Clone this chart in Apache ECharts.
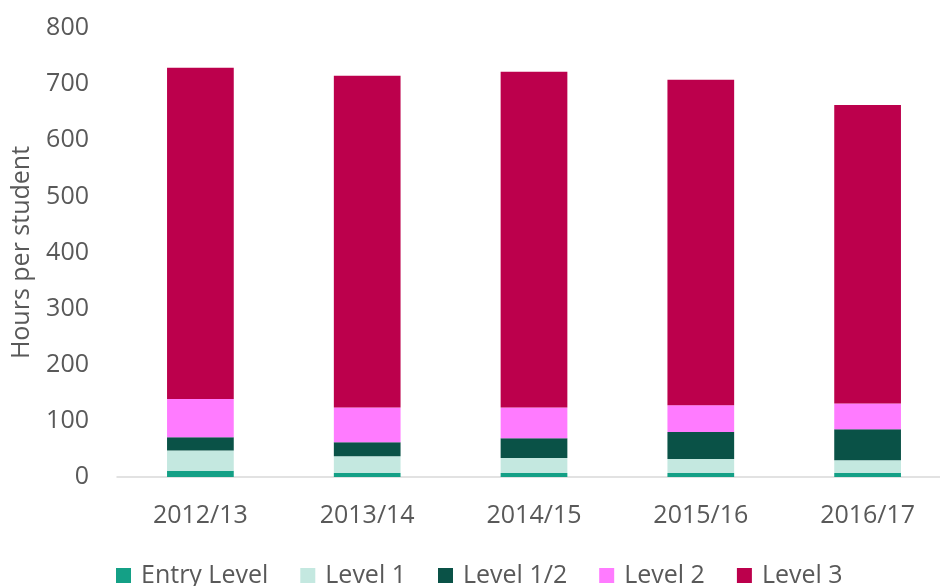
<!DOCTYPE html>
<html>
<head>
<meta charset="utf-8">
<script src="https://cdn.jsdelivr.net/npm/echarts@6/dist/echarts.min.js"></script>
<style>
  html, body { margin: 0; padding: 0; background: #fff; overflow: hidden; }
  #chart { width: 940px; height: 586px; }
</style>
</head>
<body>
<div id="chart"></div>
<script>
const years = ['2012/13', '2013/14', '2014/15', '2015/16', '2016/17']
const entryLevel = [11, 7, 7, 7, 7]
const level1 = [36, 30, 27, 25, 23]
const level12 = [24, 25, 35, 48, 55]
const level2 = [68, 62, 55, 48, 46]
const level3 = [590, 591, 598, 580, 532]

const textColor = '#595959'
const font = 'Open Sans'

function bar(name, data, color) {
  return {
    name: name,
    type: 'bar',
    stack: 'total',
    barWidth: '40%',
    data: data,
    itemStyle: { color: color }
  }
}

let myChart = echarts.init(document.getElementById('chart'))
myChart.setOption({
  animation: false,
  textStyle: { fontFamily: font },
  grid: {
    left: 117,
    top: 28,
    right: -11,
    height: 449,
    outerBoundsMode: 'none',
    containLabel: false
  },
  legend: {
    left: 116,
    top: 563,
    padding: 0,
    itemWidth: 15,
    itemHeight: 15,
    itemGap: 32,
    icon: 'rect',
    textStyle: {
      color: textColor,
      fontFamily: font,
      fontSize: 25,
      lineHeight: 25,
      padding: [0, 0, 0, 5]
    },
    data: ['Entry Level', 'Level 1', 'Level 1/2', 'Level 2', 'Level 3']
  },
  xAxis: {
    type: 'category',
    data: years,
    axisTick: { show: false },
    axisLine: { lineStyle: { color: '#d9d9d9', width: 1.5 } },
    axisLabel: {
      color: textColor,
      fontFamily: font,
      fontSize: 25,
      lineHeight: 25,
      margin: 26
    }
  },
  yAxis: {
    type: 'value',
    min: 0,
    max: 800,
    interval: 100,
    name: 'Hours per student',
    nameLocation: 'middle',
    nameGap: 83,
    nameTextStyle: {
      color: textColor,
      fontFamily: font,
      fontSize: 25
    },
    splitLine: { show: false },
    axisLine: { show: false },
    axisTick: { show: false },
    axisLabel: {
      color: textColor,
      fontFamily: font,
      fontSize: 25,
      margin: 28
    }
  },
  series: [
    bar('Entry Level', entryLevel, '#14a086'),
    bar('Level 1', level1, '#c4e8e0'),
    bar('Level 1/2', level12, '#0a5247'),
    bar('Level 2', level2, '#ff7bff'),
    bar('Level 3', level3, '#bc004c')
  ]
})
</script>
</body>
</html>
